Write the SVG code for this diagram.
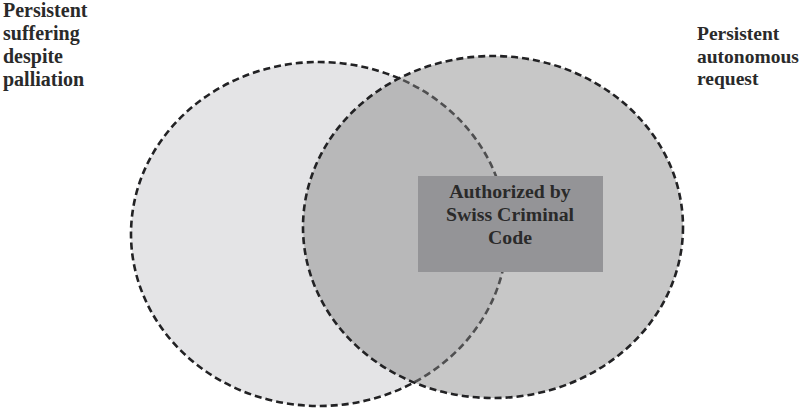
<svg xmlns="http://www.w3.org/2000/svg" width="804" height="408" viewBox="0 0 804 408">
  <style>
    .set { stroke: #222224; stroke-width: 2.6; stroke-dasharray: 7 4; }
    text { font-family: "Liberation Serif", "Times New Roman", serif; font-weight: bold; fill: #2a2a2a; }
    .label { font-size: 20px; }
    .label-r { font-size: 19.5px; }
    .core { font-size: 19.8px; text-anchor: middle; }
  </style>
  <rect width="804" height="408" fill="#ffffff"/>
  <!-- left set -->
  <g id="suffering">
    <ellipse class="set" cx="319" cy="234" rx="188" ry="172" fill="#e4e4e6"/>
    <text class="label" x="3" y="17">Persistent</text>
    <text class="label" x="3" y="40">suffering</text>
    <text class="label" x="3" y="63">despite</text>
    <text class="label" x="3" y="86">palliation</text>
  </g>
  <!-- right set, translucent so the overlap darkens -->
  <g id="request">
    <ellipse class="set" cx="493" cy="227" rx="190" ry="171" fill="#848486" fill-opacity="0.46"/>
    <text class="label-r" x="697" y="40">Persistent</text>
    <text class="label-r" x="697" y="63">autonomous</text>
    <text class="label-r" x="697" y="85">request</text>
  </g>
  <g id="authorized">
    <rect x="418" y="176" width="185" height="96" fill="#949497"/>
    <text class="core" x="510" y="198">Authorized by</text>
    <text class="core" x="510" y="221">Swiss Criminal</text>
    <text class="core" x="510" y="244">Code</text>
  </g>
  <g id="connectors"/>
</svg>
